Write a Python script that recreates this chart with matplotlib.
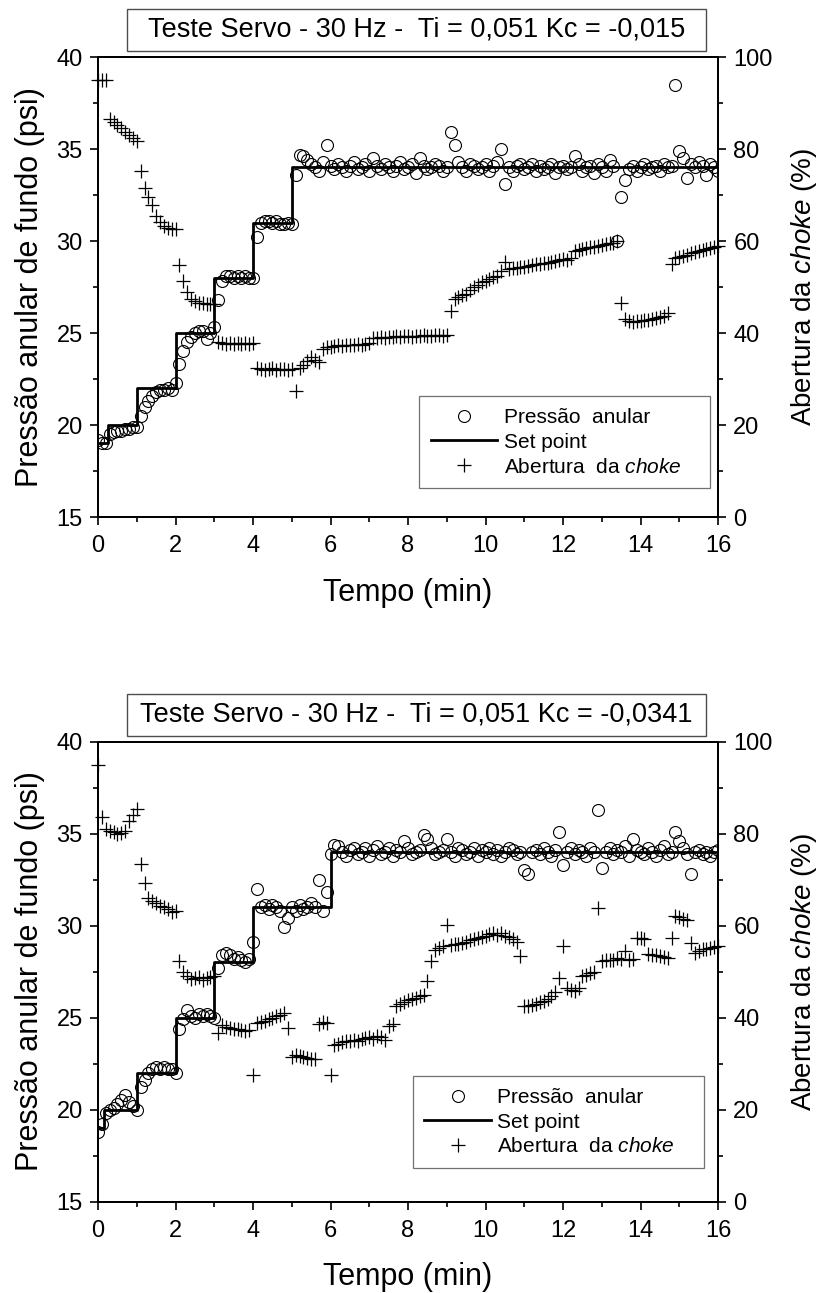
import numpy as np
import matplotlib
matplotlib.use("Agg")
import matplotlib.pyplot as plt
from matplotlib.patches import Rectangle
from matplotlib.lines import Line2D
from matplotlib.ticker import MultipleLocator

plt.rcParams['font.family'] = ['Liberation Sans', 'DejaVu Sans']
plt.rcParams['mathtext.fontset'] = 'custom'
plt.rcParams['mathtext.rm'] = 'Liberation Sans'
plt.rcParams['mathtext.it'] = 'Liberation Sans:italic'

# sampling grid (min)
tempo = np.round(np.arange(0, 16.01, 0.1), 1)

# ---- test 1: Kc = -0,015 ----
titulo_1 = "Teste Servo - 30 Hz -  Ti = 0,051 Kc = -0,015"
sp_t_1 = [0, 0.25, 1, 2, 3, 4, 5, 16]
sp_v_1 = [19, 20, 22, 25, 28, 31, 34, 34]
pressao_1 = [
    19.2, 19.0, 19.0, 19.5, 19.6, 19.7, 19.7, 19.8, 19.8, 19.9,
    19.9, 20.5, 21.0, 21.3, 21.6, 21.8, 21.9, 21.9, 22.0, 21.9,
    22.3, 23.3, 24.0, 24.5, 24.8, 25.0, 25.1, 25.1, 24.7, 25.0,
    25.3, 26.8, 27.8, 28.1, 28.1, 28.0, 28.1, 28.0, 28.1, 28.0,
    28.0, 30.2, 31.0, 31.1, 31.1, 31.0, 31.1, 30.9, 30.9, 31.0,
    30.9, 33.6, 34.7, 34.6, 34.4, 34.2, 34.0, 33.8, 34.3, 35.2,
    34.1, 33.9, 34.2, 34.0, 33.8, 34.1, 34.3, 33.9, 34.0, 34.2,
    33.8, 34.5, 34.1, 33.9, 34.2, 34.0, 33.8, 34.1, 34.3, 33.9,
    34.0, 34.2, 33.7, 34.5, 34.1, 33.9, 34.0, 34.2, 34.1, 33.8,
    34.0, 35.9, 35.2, 34.3, 34.0, 33.8, 34.2, 34.1, 33.9, 34.0,
    34.2, 33.8, 34.1, 34.3, 35.0, 33.1, 34.0, 33.8, 34.1, 34.2,
    33.9, 34.0, 34.2, 33.8, 34.1, 33.9, 34.0, 34.2, 33.7, 34.0,
    34.1, 33.9, 34.0, 34.6, 34.2, 33.8, 34.0, 34.1, 33.7, 34.2,
    34.0, 33.8, 34.4, 34.1, 30.0, 32.4, 33.3, 33.9, 34.1, 33.8,
    34.0, 34.2, 33.9, 34.0, 34.1, 33.8, 34.2, 34.0, 34.1, 38.5,
    34.9, 34.5, 33.4, 34.2, 34.0, 34.3, 34.1, 33.6, 34.2, 34.0,
    33.8]
choke_1 = [
    95.0, 95.0, 95.0, 86.5, 85.8, 85.2, 84.5, 83.8, 83.0, 82.4,
    81.8, 75.3, 71.6, 69.5, 67.8, 65.5, 64.2, 63.2, 62.8, 62.5,
    62.5, 54.7, 51.3, 49.0, 47.5, 47.0, 46.6, 46.5, 46.3, 46.2,
    46.2, 38.0, 37.8, 37.6, 37.8, 37.7, 37.9, 37.6, 37.8, 37.7,
    37.8, 32.3, 32.2, 32.0, 32.1, 32.3, 31.9, 32.1, 32.2, 32.0,
    32.2, 27.3, 32.3, 33.0, 34.0, 34.8, 34.2, 33.8, 36.5, 37.0,
    37.0, 37.2, 37.3, 37.2, 37.4, 37.5, 37.4, 37.6, 37.5, 37.7,
    37.8, 38.9, 39.0, 39.1, 39.0, 39.2, 39.1, 39.3, 39.2, 39.4,
    39.3, 39.2, 39.4, 39.3, 39.5, 39.4, 39.3, 39.6, 39.5, 39.4,
    39.6, 44.7, 47.5, 47.8, 48.2, 48.5, 49.4, 50.0, 50.5, 51.0,
    51.4, 51.8, 52.1, 52.4, 53.5, 55.4, 54.0, 54.2, 54.1, 54.3,
    54.4, 54.5, 54.8, 55.0, 55.1, 55.3, 55.2, 55.5, 55.6, 55.8,
    56.0, 55.9, 56.2, 57.8, 58.0, 58.2, 58.4, 58.6, 58.8, 59.0,
    59.2, 59.3, 59.5, 59.6, 60.0, 46.5, 43.0, 42.6, 42.5, 42.6,
    42.7, 42.8, 42.8, 43.0, 43.2, 43.4, 43.8, 44.4, 54.9, 56.4,
    56.6, 56.8, 57.0, 57.3, 57.5, 57.8, 58.0, 58.3, 58.5, 58.8,
    59.0]

# ---- test 2: Kc = -0,0341 ----
titulo_2 = "Teste Servo - 30 Hz -  Ti = 0,051 Kc = -0,0341"
sp_t_2 = [0, 0.15, 1, 2, 3, 4, 6, 16]
sp_v_2 = [19, 20, 22, 25, 28, 31, 34, 34]
pressao_2 = [
    18.8, 19.2, 19.8, 20.0, 20.1, 20.3, 20.5, 20.8, 20.4, 20.2,
    20.0, 21.2, 21.6, 22.0, 22.2, 22.3, 22.2, 22.3, 22.2, 22.2,
    22.0, 24.4, 24.9, 25.4, 25.1, 25.0, 25.2, 25.1, 25.2, 25.1,
    25.0, 27.7, 28.4, 28.5, 28.4, 28.2, 28.3, 28.1, 28.0, 28.2,
    29.1, 32.0, 31.0, 31.1, 30.9, 31.1, 31.0, 30.8, 29.9, 30.4,
    31.0, 30.8, 31.1, 30.9, 31.0, 31.2, 31.0, 32.5, 30.8, 31.8,
    33.9, 34.4, 34.3, 34.0, 33.8, 34.1, 34.2, 33.9, 34.0, 34.2,
    33.8, 34.1, 34.3, 33.9, 34.0, 34.2, 33.8, 34.1, 34.0, 34.6,
    34.2, 33.9, 34.0, 34.1, 34.9, 34.7, 34.2, 33.9, 34.0, 34.1,
    34.7, 34.0, 33.8, 34.2, 34.1, 33.9, 34.0, 34.2, 33.8, 34.1,
    34.0, 34.2, 33.9, 34.1, 33.8, 34.0, 34.2, 34.1, 33.9, 34.0,
    33.0, 32.8, 34.0, 34.1, 33.9, 34.2, 34.0, 33.8, 34.1, 35.1,
    33.3, 34.0, 34.2, 33.9, 34.1, 34.0, 33.8, 34.2, 34.0, 36.3,
    33.1, 34.0, 34.2, 33.9, 34.1, 34.0, 34.3, 33.8, 34.7, 34.1,
    34.0, 33.9, 34.2, 34.0, 33.8, 34.1, 34.3, 33.9, 34.0, 35.1,
    34.6, 34.2, 33.9, 32.8, 34.0, 34.1, 33.9, 34.0, 33.8, 34.0,
    34.1]
choke_2 = [
    95.0, 83.6, 81.0, 80.5, 80.3, 80.0, 80.2, 80.5, 82.8, 84.0,
    85.3, 73.3, 69.3, 66.0, 65.3, 64.8, 64.3, 64.0, 63.5, 63.0,
    63.2, 52.2, 50.0, 49.0, 48.3, 48.5, 48.7, 48.2, 48.6, 48.8,
    49.0, 36.6, 38.4, 38.0, 37.8, 37.5, 37.5, 37.3, 37.0, 37.2,
    27.5, 38.8, 39.0, 39.3, 39.6, 40.0, 40.3, 40.6, 41.0, 37.8,
    31.5, 31.9, 31.6, 31.4, 31.2, 31.0, 30.9, 38.6, 39.0, 38.7,
    27.5, 34.0, 34.2, 34.6, 34.8, 35.0, 35.2, 35.0, 35.3, 35.6,
    35.8, 35.4, 35.9, 35.8, 35.2, 38.2, 38.5, 42.6, 43.0, 43.4,
    43.7, 44.0, 44.3, 44.6, 44.8, 47.9, 52.2, 54.6, 55.2, 55.5,
    60.2, 55.8, 55.9, 56.0, 56.2, 56.5, 56.8, 57.0, 57.2, 57.5,
    57.8, 58.2, 58.4, 58.0, 58.3, 57.7, 57.5, 57.0, 56.4, 53.3,
    42.4, 42.6, 42.8, 43.0, 43.3, 43.6, 44.0, 44.6, 45.5, 48.6,
    55.5, 46.4, 46.0, 45.7, 46.5, 49.0, 49.3, 49.6, 50.0, 63.8,
    52.2, 52.5, 52.4, 52.6, 52.9, 52.7, 54.4, 52.6, 52.8, 57.3,
    57.2, 57.0, 53.8, 53.6, 53.5, 53.4, 53.2, 53.0, 57.3, 62.0,
    61.8, 61.5, 61.3, 56.2, 54.0, 54.4, 54.8, 55.0, 55.2, 55.4,
    55.5]

W, H = 821, 1293


def painel(fig, top_px, titulo, sp_t, sp_v, pressao, choke, leg_anchor):
    rect = [98 / W, 1 - (top_px + 460) / H, 620 / W, 460 / H]
    ax = fig.add_axes(rect)
    ax2 = ax.twinx()

    ax.plot(sp_t, sp_v, color='black', lw=2.0, drawstyle='steps-post', zorder=2)
    ax.plot(tempo, pressao, 'o', ms=8.6, mfc='none', mec='black', mew=0.8, zorder=3)
    ax2.plot(tempo, choke, '+', ms=10, color='black', mew=0.9, clip_on=False)

    ax.set_xlim(0, 16)
    ax.set_ylim(15, 40)
    ax2.set_ylim(0, 100)
    ax.xaxis.set_major_locator(MultipleLocator(2))
    ax.xaxis.set_minor_locator(MultipleLocator(1))
    ax.yaxis.set_major_locator(MultipleLocator(5))
    ax.yaxis.set_minor_locator(MultipleLocator(2.5))
    ax2.yaxis.set_major_locator(MultipleLocator(20))
    ax2.yaxis.set_minor_locator(MultipleLocator(10))

    for a in (ax, ax2):
        for s in a.spines.values():
            s.set_linewidth(1.4)
        a.tick_params(which='major', direction='out', length=6, width=1.2,
                      labelsize=17, pad=5)
        a.tick_params(which='minor', direction='out', length=3.5, width=1.2)
    ax.tick_params(axis='x', pad=7)

    ax.set_xlabel("Tempo (min)", fontsize=22, labelpad=15)
    ax.set_ylabel("Pressão anular de fundo (psi)", fontsize=22, labelpad=8)
    ax2.set_ylabel("Abertura da $choke$ (%)", fontsize=20, labelpad=12)

    handles = [
        Line2D([], [], ls='none', marker='o', ms=8.6, mfc='none', mec='black', mew=0.8),
        Line2D([], [], color='black', lw=2.0),
        Line2D([], [], ls='none', marker='+', ms=10, color='black', mew=0.9),
    ]
    labels = ["Pressão  anular", "Set point", "Abertura  da $choke$"]
    leg = ax2.legend(handles, labels, loc='lower left', bbox_to_anchor=leg_anchor,
                     mode='expand', fontsize=15, frameon=True, fancybox=False,
                     edgecolor='0.3', handlelength=3.2, handletextpad=0.3,
                     labelspacing=0.28, borderpad=0.55, borderaxespad=0)
    leg.get_frame().set_linewidth(0.9)

    # title box above the plot
    bx0, bx1 = 127, 706
    by0, by1 = top_px - 48, top_px - 6
    fig.patches.append(Rectangle((bx0 / W, 1 - by1 / H), (bx1 - bx0) / W,
                                 (by1 - by0) / H, transform=fig.transFigure,
                                 fill=False, edgecolor='0.3', lw=1.0))
    fig.text((bx0 + bx1) / 2 / W, 1 - (by0 + by1) / 2 / H, titulo,
             ha='center', va='center', fontsize=19.5)


fig = plt.figure(figsize=(W / 100, H / 100), dpi=100)
painel(fig, 57, titulo_1, sp_t_1, sp_v_1, pressao_1, choke_1,
       (0.518, 0.063, 0.469, 0.2))
painel(fig, 741.5, titulo_2, sp_t_2, sp_v_2, pressao_2, choke_2,
       (0.508, 0.073, 0.469, 0.2))
fig.savefig("out.png", dpi=100)
